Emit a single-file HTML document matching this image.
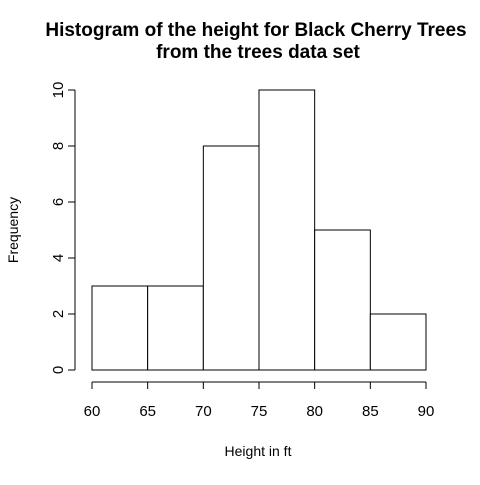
<!DOCTYPE html>
<html><head><meta charset="utf-8"><style>
body{margin:0;background:#fff;}
svg text{font-family:"Liberation Sans",Arial,sans-serif;fill:#000;}
</style></head><body>
<svg id="chart" width="480" height="480" viewBox="0 0 480 480">
<rect width="480" height="480" fill="#fff"/>
<text x="256" y="36" font-size="19" font-weight="bold" text-anchor="middle">Histogram of the height for Black Cherry Trees</text>
<text x="258" y="58" font-size="19" font-weight="bold" text-anchor="middle">from the trees data set</text>
<text x="258" y="456" font-size="14" text-anchor="middle">Height in ft</text>
<text transform="translate(18,230) rotate(-90)" font-size="14" text-anchor="middle">Frequency</text>
<g id="bars"></g><g id="axes"></g>
</svg>
<script>
const breaks=[60,65,70,75,80,85,90];
const counts=[3,3,8,10,5,2];
const xTicks=[60,65,70,75,80,85,90];
const yTicks=[0,2,4,6,8,10];
const NS="http://www.w3.org/2000/svg";
const xs=v=>92+(v-60)*(426-92)/30;
const ys=v=>370-v*28;
function mk(t,a,p){const e=document.createElementNS(NS,t);for(const k in a)e.setAttribute(k,a[k]);p.appendChild(e);return e;}
const bars=document.getElementById('bars'),axes=document.getElementById('axes');
counts.forEach((c,i)=>{
 const r=mk('rect',{x:xs(breaks[i]),y:ys(c),width:xs(breaks[i+1])-xs(breaks[i]),height:ys(0)-ys(c),fill:'#fff',stroke:'#000','stroke-width':1},bars);
 
 
});
const xl=mk('line',{x1:xs(xTicks[0]),x2:xs(xTicks[xTicks.length-1]),y1:382,y2:382,stroke:'#000'},axes);


xTicks.forEach(v=>{
 mk('line',{x1:xs(v),x2:xs(v),y1:382,y2:389,stroke:'#000'},axes);
 const t=mk('text',{x:xs(v),y:416,'font-size':15,'text-anchor':'middle'},axes);t.textContent=v;
 
 
});
const yl=mk('line',{x1:75,x2:75,y1:ys(yTicks[0]),y2:ys(yTicks[yTicks.length-1]),stroke:'#000'},axes);


yTicks.forEach(v=>{
 mk('line',{x1:68,x2:75,y1:ys(v),y2:ys(v),stroke:'#000'},axes);
 const t=mk('text',{transform:'translate(63,'+ys(v)+') rotate(-90)','font-size':15,'text-anchor':'middle'},axes);t.textContent=v;
 
 
});
</script>
</body></html>
